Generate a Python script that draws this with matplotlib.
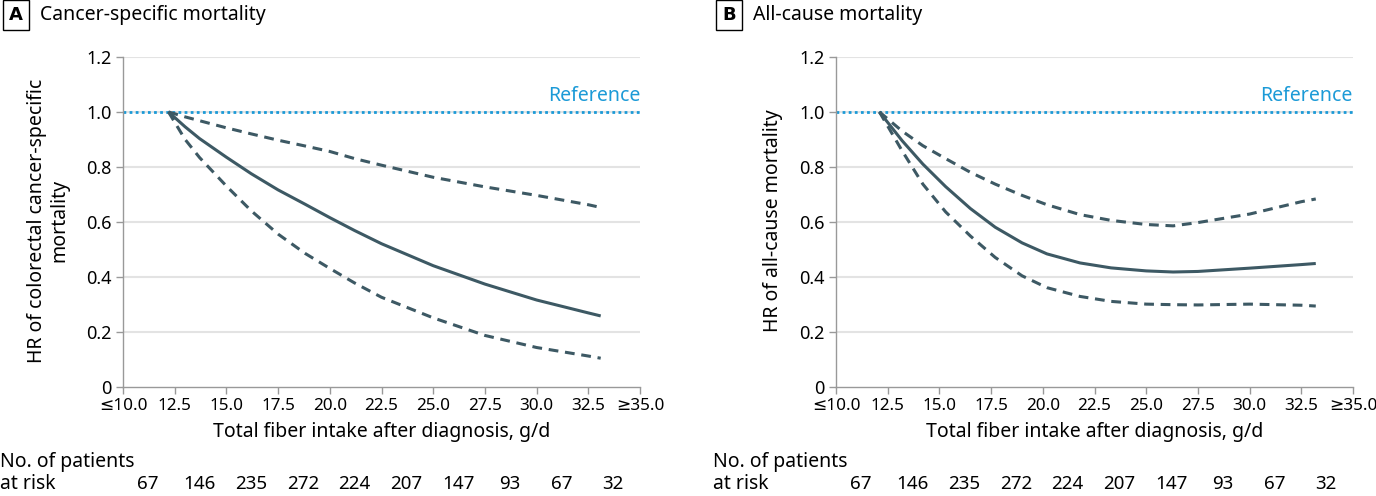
import numpy as np
import matplotlib.pyplot as plt
import matplotlib.transforms as mtransforms

plt.rcParams['font.family'] = ['Noto Sans', 'DejaVu Sans']

# panel A: cancer-specific mortality
xa = [12.2, 13.0, 13.7, 15.0, 16.2, 17.5, 18.8, 20.0, 21.2, 22.5, 25.0, 27.5, 30.0, 32.5, 33.1]
hr_a = [1.0, 0.946, 0.903, 0.835, 0.775, 0.716, 0.664, 0.615, 0.568, 0.52, 0.44, 0.373, 0.315, 0.268, 0.257]
hi_a = [1.0, 0.982, 0.968, 0.942, 0.92, 0.897, 0.876, 0.856, 0.83, 0.806, 0.762, 0.727, 0.696, 0.662, 0.652]
lo_a = [1.0, 0.90, 0.834, 0.73, 0.64, 0.555, 0.485, 0.43, 0.377, 0.325, 0.25, 0.186, 0.142, 0.111, 0.103]

# panel B: all-cause mortality
xb = [12.1, 13.2, 14.2, 15.3, 16.5, 17.7, 19.0, 20.2, 21.8, 23.3, 25.0, 26.3, 27.5, 30.0, 32.5, 33.2]
hr_b = [1.0, 0.895, 0.81, 0.728, 0.648, 0.58, 0.523, 0.483, 0.45, 0.432, 0.421, 0.417, 0.419, 0.431, 0.444, 0.448]
hi_b = [1.0, 0.93, 0.877, 0.83, 0.78, 0.737, 0.696, 0.662, 0.626, 0.605, 0.59, 0.585, 0.597, 0.628, 0.673, 0.683]
lo_b = [1.0, 0.858, 0.737, 0.636, 0.548, 0.47, 0.403, 0.36, 0.328, 0.31, 0.30, 0.298, 0.297, 0.30, 0.296, 0.293]

xticks = [10.0, 12.5, 15.0, 17.5, 20.0, 22.5, 25.0, 27.5, 30.0, 32.5, 35.0]
xticklabels = ['≤10.0', '12.5', '15.0', '17.5', '20.0', '22.5', '25.0', '27.5', '30.0', '32.5', '≥35.0']
yticks = [0, 0.2, 0.4, 0.6, 0.8, 1.0, 1.2]
yticklabels = ['0', '0.2', '0.4', '0.6', '0.8', '1.0', '1.2']

at_risk = [67, 146, 235, 272, 224, 207, 147, 93, 67, 32]
risk_x = [11.2, 13.7, 16.2, 18.7, 21.2, 23.7, 26.2, 28.7, 31.2, 33.7]

line_col = '#3d5964'
ref_col = '#1b9ad7'
W, H = 1376, 496

fig = plt.figure(figsize=(W / 100, H / 100), dpi=100)

panels = [
    (123, 'A', 'Cancer-specific mortality', 'HR of colorectal cancer-specific\nmortality', 48,
     xa, hr_a, hi_a, lo_a, 0),
    (836, 'B', 'All-cause mortality', 'HR of all-cause mortality', 773,
     xb, hr_b, hi_b, lo_b, 713),
]

for left, letter, title, ylab, ylab_x, x, hr, hi, lo, tx in panels:
    ax = fig.add_axes([left / W, 109.5 / H, 517 / W, 329.5 / H])
    ax.set_xlim(10, 35)
    ax.set_ylim(0, 1.2)
    for yv in yticks[1:]:
        ax.axhline(yv, color='#e3e3e3', lw=1.5, zorder=0)
    ax.plot([10, 35], [1.0, 1.0], color=ref_col, lw=2, ls=(0, (1, 1.2)), zorder=2)
    ax.text(35, 1.022, 'Reference', ha='right', va='bottom', color=ref_col, fontsize=14)
    ax.plot(x, hr, color=line_col, lw=2.2, zorder=3, solid_capstyle='butt',
            solid_joinstyle='round')
    ax.plot(x, hi, color=line_col, lw=2.2, ls=(0, (3.2, 2.2)), zorder=3)
    ax.plot(x, lo, color=line_col, lw=2.2, ls=(0, (3.2, 2.2)), zorder=3)

    ax.set_xticks(xticks)
    ax.set_xticklabels(xticklabels)
    ax.set_yticks(yticks)
    ax.set_yticklabels(yticklabels)
    ax.tick_params(length=5, width=1, color='#999999', labelsize=12.3, pad=3)
    ax.tick_params(axis='y', labelsize=13)
    for s in ['top', 'right']:
        ax.spines[s].set_visible(False)
    for s in ['left', 'bottom']:
        ax.spines[s].set_color('#999999')
        ax.spines[s].set_linewidth(1)
    ax.set_xlabel('Total fiber intake after diagnosis, g/d', fontsize=14, labelpad=6)

    fig.text(ylab_x / W, 1 - 221 / H, ylab, rotation=90, ha='center', va='center',
             fontsize=14, linespacing=1.15)

    # panel letter and title
    fig.text((left - 107) / W, 1 - 15 / H, letter, ha='center', va='center', fontsize=13,
             fontweight='bold', family='DejaVu Sans',
             bbox=dict(boxstyle='square,pad=0.32', fc='white', ec='black', lw=1))
    fig.text((left - 83) / W, 1 - 15 / H, title, ha='left', va='center', fontsize=14)

    # numbers at risk
    fig.text(tx / W, 1 - 462 / H, 'No. of patients', ha='left', va='center', fontsize=14)
    fig.text(tx / W, 1 - 484 / H, 'at risk', ha='left', va='center', fontsize=14)
    trans = mtransforms.blended_transform_factory(ax.transData, fig.transFigure)
    for rx, n in zip(risk_x, at_risk):
        ax.text(rx, 1 - 484 / H, str(n), transform=trans, ha='center', va='center',
                fontsize=13.5, clip_on=False)

fig.savefig('out.png', dpi=100)
